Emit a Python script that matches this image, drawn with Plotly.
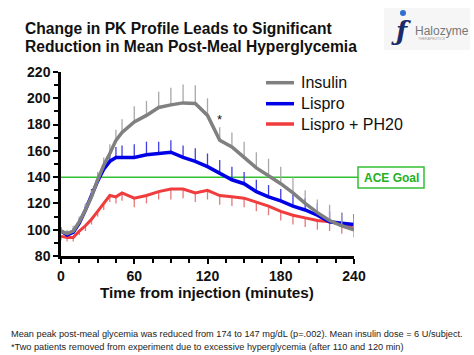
import plotly.graph_objects as go

# ---- data ----
times = [0, 5, 10, 15, 20, 25, 30, 35, 40, 45, 50, 60, 70, 80, 90, 100, 110, 120,
         130, 140, 150, 160, 170, 180, 190, 200, 210, 220, 230, 240]
insulin = [99, 97, 99, 106, 115, 125, 138, 149, 158, 168, 174, 182, 187, 193, 195, 196.5, 196, 187,
           168, 163, 155, 147, 141, 135, 128, 120, 113, 107, 103, 100]
insulin_err = [3, 3, 4, 4, 5, 5, 6, 6, 7, 8, 10, 12, 11, 12, 13, 14, 14, 13,
               10, 11, 12, 12, 13, 13, 12, 10, 10, 12, 10, 9]
lispro = [99, 96, 98, 105, 115, 126, 137, 146, 152, 155, 155, 155, 157, 158, 159, 155, 152, 148,
          143, 138, 135, 129, 125, 122, 118, 115, 111, 106, 105, 104]
lispro_err = [3, 3, 3, 4, 4, 5, 5, 6, 7, 8, 9, 10, 10, 9, 9, 9, 10, 10,
              10, 10, 9, 9, 9, 9, 9, 9, 9, 8, 8, 8]
ph20 = [95, 94, 94, 99, 103, 108, 114, 120, 126, 125, 128, 124, 126, 129, 131, 131, 128, 130,
        126, 125, 124, 121, 118, 114, 111, 109, 107, 106, 104, 101]
ph20_err = [3, 3, 3, 3, 4, 4, 4, 5, 5, 5, 6, 7, 6, 6, 8, 7, 7, 7,
            7, 7, 7, 7, 7, 7, 7, 7, 7, 7, 7, 7]
series_names = ["Insulin", "Lispro", "Lispro + PH20"]
ace_goal = 140
star_time, star_value = 130, 181
x_ticks = [0, 60, 120, 180, 240]
y_ticks = [80, 100, 120, 140, 160, 180, 200, 220]

GREY, BLUE, RED, GREEN = "#808080", "#0000e6", "#f03c3c", "#33c033"
FONT = "Arial, Liberation Sans, sans-serif"

# plot area in pixels
L, R, T, B = 61, 354, 72, 256
W, H = 474, 355


def px(x):
    return (x - L) / (R - L)


def py(y):
    return (B - y) / (B - T)


fig = go.Figure()

zeros = [0] * len(times)
fig.add_trace(go.Scatter(
    x=times, y=ph20, mode="lines", name=series_names[2], showlegend=False,
    line=dict(color=RED, width=3),
    error_y=dict(type="data", symmetric=False, array=zeros, arrayminus=ph20_err,
                 color="#e87878", thickness=1.3, width=0)))
fig.add_trace(go.Scatter(
    x=times, y=lispro, mode="lines", name=series_names[1], showlegend=False,
    line=dict(color=BLUE, width=3.5),
    error_y=dict(type="data", symmetric=False, array=lispro_err, arrayminus=zeros,
                 color="#4040e0", thickness=1.3, width=0)))
fig.add_trace(go.Scatter(
    x=times, y=insulin, mode="lines", name=series_names[0], showlegend=False,
    line=dict(color=GREY, width=3.5),
    error_y=dict(type="data", symmetric=False, array=insulin_err, arrayminus=zeros,
                 color="#a8a8a8", thickness=1.3, width=0)))

shapes = []
# ACE goal line
shapes.append(dict(type="line", xref="paper", yref="y", x0=0, x1=px(358),
                   y0=ace_goal, y1=ace_goal, line=dict(color=GREEN, width=1.5), layer="below"))
shapes.append(dict(type="rect", xref="paper", yref="paper", x0=px(358), x1=px(424),
                   y0=py(188), y1=py(167), line=dict(color=GREEN, width=1.5),
                   fillcolor="white"))

annotations = []
annotations.append(dict(xref="paper", yref="paper", x=px(391), y=py(177.5),
                        xanchor="center", yanchor="middle",
                        text="<b>ACE Goal</b>", showarrow=False,
                        font=dict(family=FONT, size=12, color="#22b022")))

# legend (manual)
leg_colors = [GREY, BLUE, RED]
leg_rows = [82.7, 103.7, 124]
for name, col, yy in zip(series_names, leg_colors, leg_rows):
    shapes.append(dict(type="line", xref="paper", yref="paper", x0=px(266), x1=px(294),
                       y0=py(yy), y1=py(yy), line=dict(color=col, width=3.5)))
    annotations.append(dict(xref="paper", yref="paper", x=px(299), y=py(yy),
                            xanchor="left", yanchor="middle", text=name, showarrow=False,
                            font=dict(family=FONT, size=16, color="#111")))

# asterisk
annotations.append(dict(x=star_time, y=star_value, text="*", showarrow=False,
                        xanchor="center", yanchor="bottom", yshift=-6,
                        font=dict(family=FONT, size=13, color="#111")))

# title
annotations.append(dict(xref="paper", yref="paper", x=px(23), y=py(28),
                        xanchor="left", yanchor="middle", showarrow=False,
                        text="<b>Change in PK Profile Leads to Significant</b>",
                        font=dict(family=FONT, size=15.6, color="#111")))
annotations.append(dict(xref="paper", yref="paper", x=px(23), y=py(47),
                        xanchor="left", yanchor="middle", showarrow=False,
                        text="<b>Reduction in Mean Post-Meal Hyperglycemia</b>",
                        font=dict(family=FONT, size=15.6, color="#111")))

# x-axis title
annotations.append(dict(xref="paper", yref="paper", x=px(207), y=py(292),
                        xanchor="center", yanchor="middle", showarrow=False,
                        text="<b>Time from injection (minutes)</b>",
                        font=dict(family=FONT, size=15.3, color="#111")))

# footer
annotations.append(dict(xref="paper", yref="paper", x=px(9), y=py(334),
                        xanchor="left", yanchor="middle", showarrow=False,
                        text="Mean peak post-meal glycemia was reduced from 174 to 147 mg/dL (p=.002). Mean insulin dose = 6 U/subject.",
                        font=dict(family=FONT, size=9.2, color="#222")))
annotations.append(dict(xref="paper", yref="paper", x=px(9), y=py(346.5),
                        xanchor="left", yanchor="middle", showarrow=False,
                        text="*Two patients removed from experiment due to excessive hyperglycemia (after 110 and 120 min)",
                        font=dict(family=FONT, size=9.2, color="#222")))

# logo (approximation)
shapes.append(dict(type="rect", xref="paper", yref="paper", x0=px(384), x1=px(470),
                   y0=py(50), y1=py(8), line=dict(width=0), fillcolor="#f6f6f6", layer="below"))
shapes.append(dict(type="circle", xref="paper", yref="paper", x0=px(400), x1=px(406),
                   y0=py(16), y1=py(10), line=dict(width=0), fillcolor="#2f6fd0"))
annotations.append(dict(xref="paper", yref="paper", x=px(401), y=py(31),
                        xanchor="center", yanchor="middle", showarrow=False,
                        text="<i><b>ƒ</b></i>", font=dict(family="DejaVu Serif", size=26, color="#1c2a6a")))
annotations.append(dict(xref="paper", yref="paper", x=px(413), y=py(31),
                        xanchor="left", yanchor="middle", showarrow=False,
                        text="Halozyme", font=dict(family=FONT, size=12, color="#777")))
annotations.append(dict(xref="paper", yref="paper", x=px(416), y=py(39),
                        xanchor="left", yanchor="middle", showarrow=False,
                        text="THERAPEUTICS", font=dict(family=FONT, size=3.5, color="#999")))

axis_common = dict(showline=True, linecolor="black", linewidth=2.5, ticks="outside",
                   tickcolor="black", tickwidth=2, ticklen=5, showgrid=False, zeroline=False,
                   tickfont=dict(family=FONT, size=14, color="#111"))

fig.update_layout(
    width=W, height=H,
    margin=dict(l=L, r=W - R, t=T, b=H - B),
    paper_bgcolor="white", plot_bgcolor="white",
    showlegend=False,
    xaxis=dict(range=[0, 240], tickvals=x_ticks, ticktext=[f"<b>{v}</b>" for v in x_ticks],
               minor=dict(dtick=15, ticks="outside", ticklen=4, tickwidth=2, tickcolor="black"),
               **axis_common),
    yaxis=dict(range=[80, 220], tickvals=y_ticks, ticktext=[f"<b>{v}</b>" for v in y_ticks],
               minor=dict(dtick=10, ticks="outside", ticklen=4, tickwidth=2, tickcolor="black"),
               **axis_common),
    shapes=shapes,
    annotations=annotations,
)

fig.write_html("out.html", config={"displayModeBar": False},
               post_script="document.body.style.margin='0';")
